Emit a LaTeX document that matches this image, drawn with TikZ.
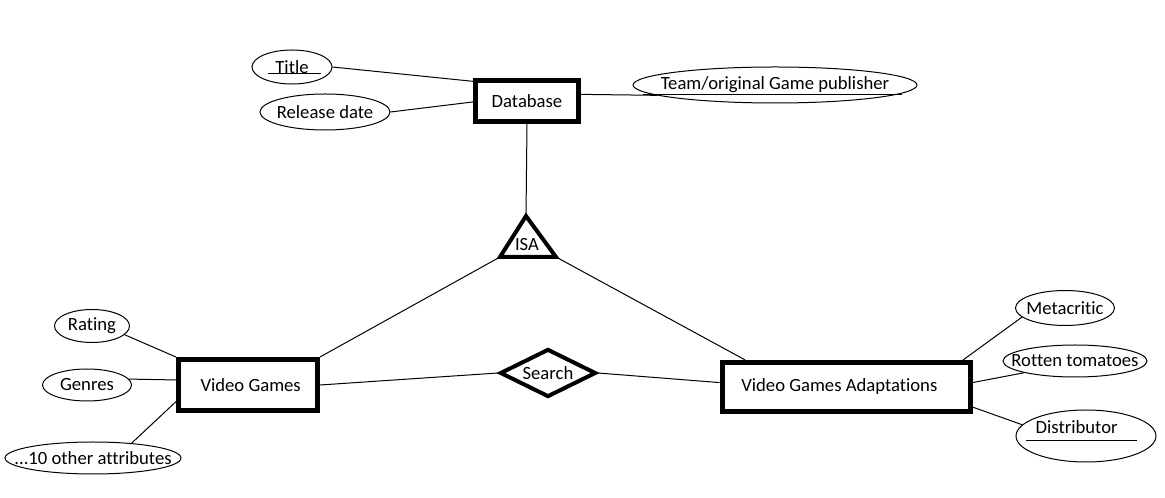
\documentclass[tikz,border=0pt]{standalone}
\usepackage{fontspec}
\setmainfont[Ligatures={NoCommon}]{Carlito}
\usetikzlibrary{shapes.geometric,calc}
\begin{document}
\begin{tikzpicture}[x=0.75pt,y=-0.75pt,
  every node/.style={font=\fontsize{14}{16}\selectfont, inner sep=0pt},
  entity/.style={draw, rectangle, line width=3.75pt},
  attr/.style={draw, ellipse, line width=0.75pt},
  conn/.style={line width=0.75pt},
  rel/.style={draw, diamond, aspect=2, line width=3pt, line join=miter},
  isastyle/.style={line width=3pt, line join=miter}]
\useasboundingbox (0,0) rectangle (1165,498);
% entities
\node[entity, minimum width={103*0.75pt}, minimum height={41*0.75pt}] (db) at (527,101) {Database};
\node[entity, minimum width={139*0.75pt}, minimum height={51*0.75pt}] (vg) at (248,385) {\raisebox{-3pt}{\hspace*{4pt}Video Games}};
\node[entity, minimum width={248*0.75pt}, minimum height={49*0.75pt}] (vga) at (846,387) {\raisebox{-3pt}{Video Games Adaptations\hspace*{10pt}}};
% attributes
\node[attr, minimum width={80*0.75pt}, minimum height={34*0.75pt}, label={center:Title}] (title) at (292,67) {};
\node[attr, minimum width={130*0.75pt}, minimum height={36*0.75pt}, label={center:Release date}] (release) at (325,112) {};
\node[attr, minimum width={284*0.75pt}, minimum height={36*0.75pt}, label={center:Team/original Game publisher}] (team) at (775,85) {};
\node[attr, minimum width={75*0.75pt}, minimum height={33*0.75pt}, label={center:Rating}] (rating) at (92,326) {};
\node[attr, minimum width={89*0.75pt}, minimum height={32*0.75pt}, label={center:Genres}] (genres) at (87,385) {};
\node[attr, minimum width={176*0.75pt}, minimum height={32*0.75pt}, label={center:...10 other attributes}] (others) at (93,458) {};
\node[attr, minimum width={99*0.75pt}, minimum height={35*0.75pt}, label={center:Metacritic}] (meta) at (1065,308) {};
\node[attr, minimum width={144*0.75pt}, minimum height={32*0.75pt}, label={center:Rotten tomatoes}] (rotten) at (1075,361) {};
\node[attr, minimum width={140*0.75pt}, minimum height={52*0.75pt}, label={[xshift=-7pt,yshift=6.75pt]center:Distributor}] (dist) at (1086,436) {};
% key underlines
\draw[conn] ($(title)+(-24,7)$) -- ($(title)+(29,7)$);
\draw[conn] ($(team)+(-132,10)$) -- ($(team)+(127,10)$);
\draw[conn] ($(dist)+(-60,5)$) -- ($(dist)+(51,5)$);
% relationship
\node[rel, minimum width={96*0.75pt}, minimum height={48*0.75pt}] (search) at (548,373) {Search};
% ISA triangle
\coordinate (isaT) at (526,216);
\coordinate (isaL) at (500,257);
\coordinate (isaR) at (556,257);
\draw[isastyle] (isaT) -- (isaL) -- (isaR) -- cycle;
\node (isa) at (527,245) {ISA};
% connectors
\draw[conn] (title.east) -- (db.160);
\draw[conn] (release.east) -- (db.181);
\draw[conn] (db.7) -- (team.185);
\draw[conn] (db.south) -- (isaT);
\draw[conn] (isaL) -- (vg.north east);
\draw[conn] (isaR) -- (vga.165);
\draw[conn] (rating.-15) -- (vg.north west);
\draw[conn] (genres.8) -- (vg.176);
\draw[conn] (others.21) -- (vg.193);
\draw[conn] (vg.east) -- (search.west);
\draw[conn] (search.east) -- (vga.178);
\draw[conn] (meta.192) -- (vga.13);
\draw[conn] (rotten.193) -- (vga.2);
\draw[conn] (dist.170) -- (vga.351);
\end{tikzpicture}
\end{document}
